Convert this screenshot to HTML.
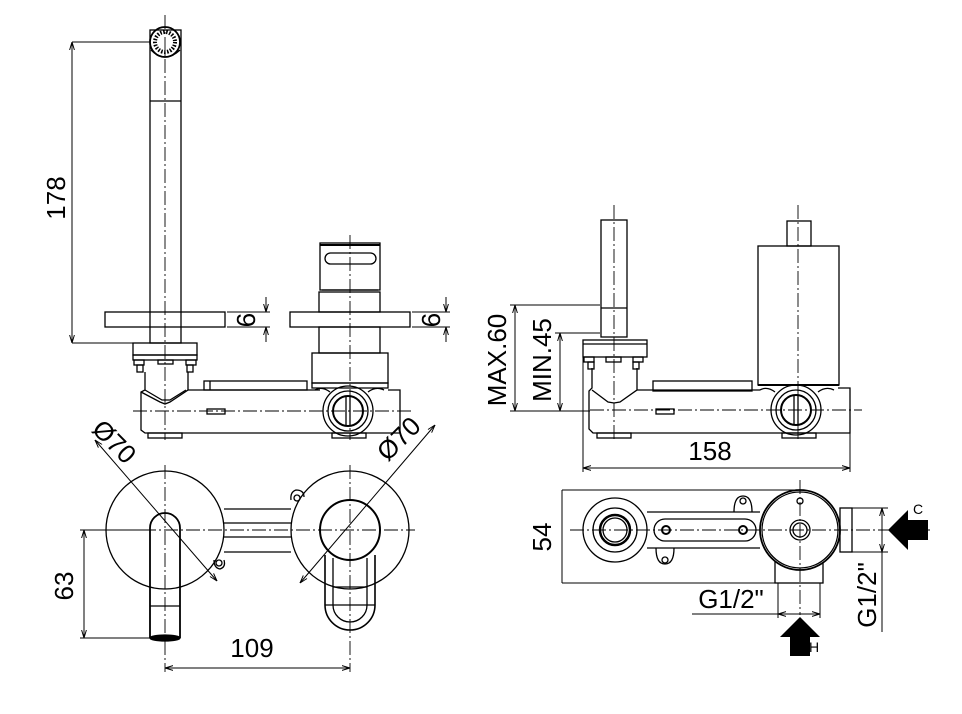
<!DOCTYPE html>
<html><head><meta charset="utf-8"><style>
html,body{margin:0;padding:0;background:#fff;}
svg{display:block;}
text{font-family:"Liberation Sans",sans-serif;fill:#000;}
</style></head><body>
<svg width="962" height="714" viewBox="0 0 962 714" xmlns="http://www.w3.org/2000/svg">
<defs>
<marker id="a" viewBox="0 0 10 10" refX="10" refY="5" markerWidth="8" markerHeight="8" orient="auto-start-reverse"><path d="M0,2 L10,5 L0,8" fill="none" stroke="#000" stroke-width="1.2"/></marker>
</defs>
<g fill="none" stroke="#000" stroke-width="1.3">
<!-- ===== LEFT ELEVATION ===== -->
<rect x="150" y="30" width="31" height="313"/>
<line x1="150" y1="101" x2="181" y2="101"/>
<circle cx="165" cy="42" r="15" stroke-width="1.8"/>
<circle cx="165" cy="42" r="10" stroke-width="4" stroke-dasharray="1.5 1.5"/>
<path d="M151,50 Q165,64 180,50"/>
<line x1="72" y1="42" x2="150" y2="42" stroke-width="1"/>
<line x1="72" y1="343" x2="133" y2="343" stroke-width="1"/>
<line x1="72" y1="42" x2="72" y2="343" stroke-width="1" marker-start="url(#a)" marker-end="url(#a)"/>
<rect x="105" y="312" width="120" height="15"/>
<rect x="290" y="312" width="120" height="15"/>
<line x1="227" y1="312" x2="270" y2="312" stroke-width="1"/>
<line x1="227" y1="327" x2="270" y2="327" stroke-width="1"/>
<line x1="266" y1="297" x2="266" y2="312" stroke-width="1" marker-end="url(#a)"/>
<line x1="266" y1="342" x2="266" y2="327" stroke-width="1" marker-end="url(#a)"/>
<line x1="412" y1="312" x2="450" y2="312" stroke-width="1"/>
<line x1="412" y1="327" x2="450" y2="327" stroke-width="1"/>
<line x1="446" y1="297" x2="446" y2="312" stroke-width="1" marker-end="url(#a)"/>
<line x1="446" y1="342" x2="446" y2="327" stroke-width="1" marker-end="url(#a)"/>
<rect x="133" y="343" width="64" height="12"/>
<rect x="133" y="355" width="64" height="5"/>
<rect x="134" y="360" width="10" height="5"/><rect x="137" y="365" width="6" height="7"/>
<rect x="186" y="360" width="10" height="5"/><rect x="187" y="365" width="6" height="7"/>
<rect x="158" y="360" width="15" height="4"/>
<path d="M145,372 L145,390 L141,392 L141,430 L145,433 L400,433 L400,390 L388,390"/>
<path d="M141,392 L160,402 L165,404 L170,402 L188,390 L188,372"/>
<path d="M145,390 L162,400 L170,400 L186,390"/>
<line x1="188" y1="390" x2="320" y2="390"/>
<rect x="204" y="381" width="103" height="9"/>
<line x1="210" y1="381" x2="210" y2="390"/>
<rect x="207" y="409" width="18" height="5"/>
<rect x="148" y="433" width="34" height="5"/>
<rect x="332" y="433" width="34" height="5"/>
<rect x="320" y="243" width="60" height="47"/>
<line x1="320" y1="245" x2="380" y2="245" stroke-width="2"/>
<rect x="325" y="253" width="51" height="11" rx="5.5"/>
<line x1="322" y1="290" x2="378" y2="290"/>
<rect x="319" y="292" width="61" height="20"/>
<rect x="319" y="327" width="61" height="26"/>
<rect x="312" y="353" width="76" height="30"/>
<path d="M312,383 L388,383 L388,388 L312,388 Z"/>
<path d="M315,390 Q322,386 330,392 M368,392 Q376,386 384,390"/>
<circle cx="348" cy="411" r="25"/>
<circle cx="348" cy="411" r="20"/>
<circle cx="348" cy="411" r="15" stroke-width="2"/>
<line x1="346" y1="397" x2="346" y2="425"/><line x1="350" y1="397" x2="350" y2="425"/>
<!-- ===== RIGHT ELEVATION ===== -->
<rect x="601" y="220" width="26" height="117"/>
<line x1="601" y1="308" x2="627" y2="308"/>
<rect x="583" y="340" width="64" height="17"/>
<line x1="583" y1="344" x2="647" y2="344"/>
<rect x="584" y="357" width="10" height="5"/><rect x="588" y="362" width="6" height="7"/>
<rect x="633" y="357" width="10" height="5"/><rect x="633" y="362" width="6" height="7"/>
<rect x="606" y="357" width="15" height="5"/>
<path d="M592,368 L592,388 L589,391 L589,429 L593,433 L850,433 L850,388 L838,388"/>
<path d="M592,390 L608,402 L614,403 L620,402 L637,390 L637,368"/>
<line x1="637" y1="390" x2="760" y2="390"/>
<rect x="653" y="381" width="99" height="10"/>
<rect x="656" y="409" width="18" height="5"/>
<rect x="597" y="433" width="34" height="5"/>
<rect x="782" y="433" width="34" height="5"/>
<rect x="758" y="246" width="81" height="139"/>
<rect x="787" y="221" width="24" height="25"/>
<line x1="758" y1="385" x2="839" y2="385" stroke-width="2"/>
<path d="M760,390 Q767,386 775,392 M818,392 Q826,386 834,390"/>
<circle cx="796" cy="410" r="25"/>
<circle cx="796" cy="410" r="20"/>
<circle cx="796" cy="410" r="15" stroke-width="2"/>
<line x1="794" y1="396" x2="794" y2="424"/><line x1="798" y1="396" x2="798" y2="424"/>
<line x1="583" y1="357" x2="583" y2="472" stroke-width="1"/>
<line x1="850" y1="433" x2="850" y2="472" stroke-width="1"/>
<line x1="583" y1="468" x2="850" y2="468" stroke-width="1" marker-start="url(#a)" marker-end="url(#a)"/>
<line x1="510" y1="305" x2="600" y2="305" stroke-width="1"/>
<line x1="555" y1="333" x2="600" y2="333" stroke-width="1"/>
<line x1="510" y1="411" x2="590" y2="411" stroke-width="1"/>
<line x1="515" y1="305" x2="515" y2="411" stroke-width="1" marker-start="url(#a)" marker-end="url(#a)"/>
<line x1="560" y1="333" x2="560" y2="411" stroke-width="1" marker-start="url(#a)" marker-end="url(#a)"/>
<!-- ===== LEFT PLAN ===== -->
<circle cx="165" cy="530" r="59"/>
<circle cx="350" cy="530" r="59"/>
<line x1="224" y1="509" x2="291" y2="509"/>
<line x1="224" y1="523" x2="291" y2="523"/>
<line x1="224" y1="537" x2="291" y2="537"/>
<line x1="224" y1="552" x2="291" y2="552"/>
<path d="M291,500 Q290,492 296,490 Q304,490 304,497"/><circle cx="297" cy="498" r="3"/>
<path d="M214,560 Q214,568 220,569 Q226,567 224,560"/><circle cx="219" cy="563" r="3"/>
<path d="M150,638 L150,528 A15,15 0 0 1 180,528 L180,638" stroke-width="1.8"/>
<line x1="150" y1="606" x2="180" y2="606"/>
<ellipse cx="165" cy="638" rx="15" ry="3" fill="#000"/>
<circle cx="350" cy="530" r="30" stroke-width="2"/>
<path d="M325,555 L325,605 A25,25 0 0 0 375,605 L375,555" stroke-width="1.6"/>
<path d="M333,558 L333,605 A17,17 0 0 0 367,605 L367,558"/>
<line x1="325" y1="605" x2="375" y2="605"/>
<line x1="333" y1="587" x2="367" y2="587"/>
<line x1="95" y1="440" x2="217" y2="581" stroke-width="1" marker-start="url(#a)" marker-end="url(#a)"/>
<line x1="435" y1="425" x2="300" y2="583" stroke-width="1" marker-start="url(#a)" marker-end="url(#a)"/>
<line x1="80" y1="530" x2="150" y2="530" stroke-width="1"/>
<line x1="80" y1="638" x2="150" y2="638" stroke-width="1"/>
<line x1="84" y1="530" x2="84" y2="638" stroke-width="1" marker-start="url(#a)" marker-end="url(#a)"/>
<line x1="165" y1="668" x2="350" y2="668" stroke-width="1" marker-start="url(#a)" marker-end="url(#a)"/>
<!-- ===== RIGHT PLAN ===== -->
<path d="M562,490 L800,490 M562,583 L775,583 M562,490 L562,583" stroke-width="1"/>
<circle cx="615" cy="530" r="32"/>
<circle cx="615" cy="530" r="22"/>
<circle cx="615" cy="530" r="15" stroke-width="2.5"/>
<circle cx="615" cy="530" r="12"/>
<line x1="647" y1="512" x2="760" y2="512"/><line x1="647" y1="548" x2="760" y2="548"/>
<rect x="654" y="519" width="102" height="22" rx="11"/>
<circle cx="666" cy="530" r="4" stroke-width="2"/><circle cx="743" cy="530" r="4" stroke-width="2"/>
<path d="M734,512 Q734,496 743,496 Q752,496 752,512"/><circle cx="743" cy="501" r="3"/>
<path d="M656,548 Q656,564 665,564 Q674,564 674,548"/><circle cx="665" cy="560" r="3"/>
<rect x="775" y="555" width="48" height="28"/>
<rect x="840" y="508" width="12" height="44"/>
<circle cx="800" cy="530" r="40" stroke-width="1.8" fill="#fff"/>
<circle cx="800" cy="530" r="38"/>
<circle cx="800" cy="530" r="10"/><circle cx="800" cy="530" r="7"/>
<circle cx="800" cy="501" r="3"/>
<line x1="778" y1="583" x2="778" y2="618" stroke-width="1"/>
<line x1="820" y1="583" x2="820" y2="618" stroke-width="1"/>
<line x1="692" y1="614" x2="778" y2="614" stroke-width="1"/>
<line x1="778" y1="614" x2="820" y2="614" stroke-width="1" marker-start="url(#a)" marker-end="url(#a)"/>
<line x1="852" y1="508" x2="888" y2="508" stroke-width="1"/>
<line x1="852" y1="552" x2="888" y2="552" stroke-width="1"/>
<line x1="882" y1="508" x2="882" y2="552" stroke-width="1" marker-start="url(#a)" marker-end="url(#a)"/>
<line x1="882" y1="552" x2="882" y2="632" stroke-width="1"/>
</g>
<g fill="none" stroke="#000" stroke-width="0.9" stroke-dasharray="14 3 2 3">
<line x1="165" y1="15" x2="165" y2="440"/>
<line x1="350" y1="235" x2="350" y2="440"/>
<line x1="133" y1="411" x2="412" y2="411"/>
<line x1="614" y1="205" x2="614" y2="440"/>
<line x1="798" y1="205" x2="798" y2="440"/>
<line x1="590" y1="410" x2="862" y2="410"/>
<line x1="98" y1="530" x2="415" y2="530"/>
<line x1="165" y1="465" x2="165" y2="672"/>
<line x1="350" y1="465" x2="350" y2="672"/>
<line x1="570" y1="530" x2="930" y2="530"/>
<line x1="800" y1="480" x2="800" y2="615"/>
</g>
<path d="M888,530 L908,510 L908,520 L928,520 L928,540 L908,540 L908,550 Z" fill="#000"/>
<path d="M800,617 L820,637 L810,637 L810,656 L790,656 L790,637 L780,637 Z" fill="#000"/>
<g font-size="26">
<text transform="translate(65,198) rotate(-90)" text-anchor="middle">178</text>
<text transform="translate(237,320) rotate(90)" text-anchor="middle">9</text>
<text transform="translate(422,320) rotate(90)" text-anchor="middle">9</text>
<text transform="translate(506,360) rotate(-90)" text-anchor="middle">MAX.60</text>
<text transform="translate(551,360) rotate(-90)" text-anchor="middle">MIN.45</text>
<text x="710" y="460" text-anchor="middle">158</text>
<text transform="translate(108,448) rotate(45)" text-anchor="middle">Ø70</text>
<text transform="translate(405,445) rotate(-45)" text-anchor="middle">Ø70</text>
<text transform="translate(73,586) rotate(-90)" text-anchor="middle">63</text>
<text x="252" y="657" text-anchor="middle">109</text>
<text transform="translate(551,537) rotate(-90)" text-anchor="middle">54</text>
<text x="731" y="608" text-anchor="middle">G1/2"</text>
<text transform="translate(876,595) rotate(-90)" text-anchor="middle">G1/2"</text>
</g>
<text x="913" y="514" font-size="14">C</text>
<text x="809" y="652" font-size="14">H</text>
</svg>
</body></html>
